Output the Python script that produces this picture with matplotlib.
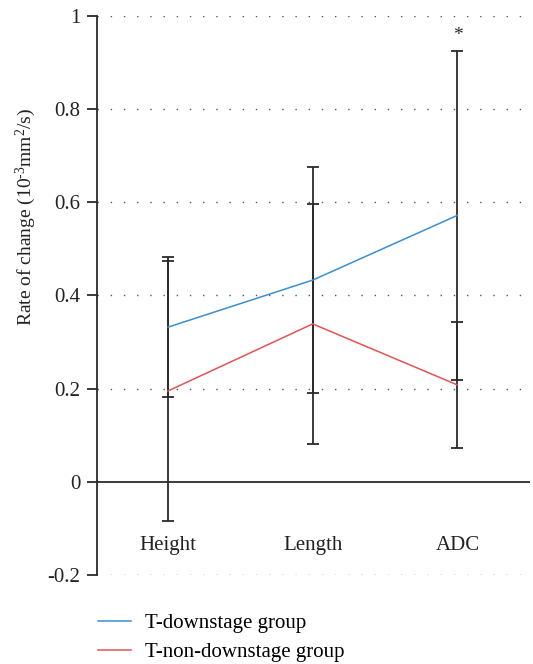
import matplotlib
matplotlib.use("Agg")
import matplotlib.pyplot as plt
import numpy as np

categories = ["Height", "Length", "ADC"]
down_mean = [0.332, 0.433, 0.572]
down_err = [0.150, 0.242, 0.353]
nondown_mean = [0.195, 0.339, 0.208]
nondown_err = [0.280, 0.257, 0.135]
yticks = [-0.2, 0, 0.2, 0.4, 0.6, 0.8, 1]
ytick_labels = ["-0.2", "0", "0.2", "0.4", "0.6", "0.8", "1"]

plt.rcParams['font.family'] = ['Liberation Serif', 'DejaVu Serif']
plt.rcParams['mathtext.fontset'] = 'custom'
plt.rcParams['mathtext.rm'] = 'Liberation Serif'
plt.rcParams['mathtext.it'] = 'Liberation Serif:italic'

fig = plt.figure(figsize=(5.33, 6.64), dpi=100)
ax = fig.add_axes([0.182, 0.134, 0.812, 0.842])

x = np.arange(len(categories))
blue = '#3a8ed2'
red = '#e35353'
ecol = '#2a2a2a'

# dotted grid lines
for yv in yticks:
    if yv != 0:
        ax.axhline(yv, color='#555555', linestyle=(0, (1, 8.5)), linewidth=1.0, zorder=0)
ax.axhline(0, color=ecol, linewidth=1.3, zorder=1)

ax.errorbar(x, down_mean, yerr=down_err, fmt='none', ecolor=ecol, elinewidth=1.3,
            capsize=4.5, capthick=1.3, zorder=2)
ax.errorbar(x, nondown_mean, yerr=nondown_err, fmt='none', ecolor=ecol, elinewidth=1.3,
            capsize=4.5, capthick=1.3, zorder=2)
l1, = ax.plot(x, down_mean, color=blue, linewidth=1.1, zorder=3, label='T-downstage group')
l2, = ax.plot(x, nondown_mean, color=red, linewidth=1.1, zorder=3, label='T-non-downstage group')

ax.text(x[2], 0.958, '*', ha='center', va='center', fontsize=14, color=ecol)

for xi, c in zip(x, categories):
    ax.text(xi, -0.137, c, ha='center', va='center', fontsize=15, color='#222222')

ax.set_xlim(-0.49, 2.5)
ax.set_ylim(-0.2, 1)
ax.set_xticks([])
ax.set_yticks(yticks)
ax.set_yticklabels(ytick_labels, fontsize=15, color='#222222')
ax.tick_params(axis='y', length=7, width=1.3, color=ecol, pad=5)
for s in ['top', 'right', 'bottom']:
    ax.spines[s].set_visible(False)
ax.spines['left'].set_linewidth(1.3)
ax.spines['left'].set_color(ecol)
ax.set_ylabel(r'Rate of change (10$^{\mathrm{\text{-}3}}$mm$^{2}$/s)', fontsize=14, color='#222222')
ax.yaxis.set_label_coords(-0.136, 0.64)

fig.legend(handles=[l1, l2], loc='upper left', bbox_to_anchor=(0.168, 0.088),
           frameon=False, fontsize=15, handlelength=1.6, handletextpad=0.65,
           labelspacing=0.45, borderaxespad=0)

fig.savefig('out.png', dpi=100)
